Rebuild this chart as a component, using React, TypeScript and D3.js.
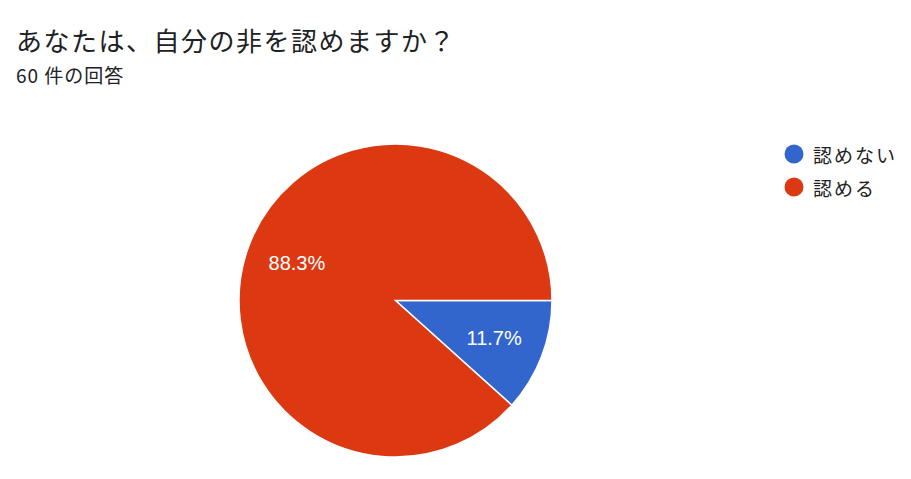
import React from "react";
import * as d3 from "d3";

const title = "あなたは、自分の非を認めますか？";
const subtitle = "60 件の回答";
const categories = ["認めない", "認める"];
const counts = [7, 53];
const colors = ["#3366cc", "#dc3912"];

const W = 911;
const H = 479;

export default function App() {
  const cx = 395.5;
  const cy = 300.5;
  const R = 156.5;
  const total = d3.sum(counts);
  const pie = d3
    .pie<number>()
    .sort(null)
    .value((d) => d)
    .startAngle(Math.PI / 2)
    .endAngle(Math.PI / 2 + 2 * Math.PI);
  const arcs = pie(counts);
  const arc = d3.arc<d3.PieArcDatum<number>>().innerRadius(0).outerRadius(R);
  const labelArc = d3
    .arc<d3.PieArcDatum<number>>()
    .innerRadius(R * 0.675)
    .outerRadius(R * 0.675);
  const cjk = "'Noto Sans CJK JP', 'Noto Sans', sans-serif";
  return (
    <svg
      width={W}
      height={H}
      style={{ position: "absolute", left: 0, top: 0, background: "#fff" }}
    >
      <rect width={W} height={H} fill="#fff" />
      <text x={16} y={51} fontFamily={cjk} fontSize={26} letterSpacing={1.5} fill="#202124">
        {title}
      </text>
      <text x={16} y={83} fontFamily={cjk} fontSize={19} letterSpacing={1} fill="#202124">
        {subtitle}
      </text>
      <g transform={`translate(${cx},${cy})`}>
        {arcs.map((a, i) => (
          <path
            key={i}
            d={arc(a) || ""}
            fill={colors[i]}
            stroke="#fff"
            strokeWidth={1.5}
          />
        ))}
        {arcs.map((a, i) => {
          const [lx, ly] = labelArc.centroid(a);
          return (
            <text
              key={"l" + i}
              x={lx}
              y={ly}
              textAnchor="middle"
              dominantBaseline="central"
              fontFamily="'Liberation Sans', Arial, sans-serif"
              fontSize={20}
              fill="#fff"
            >
              {((counts[i] / total) * 100).toFixed(1) + "%"}
            </text>
          );
        })}
      </g>
      {categories.map((c, i) => (
        <g key={c} transform={`translate(794,${154 + i * 33})`}>
          <circle r={9.5} fill={colors[i]} />
          <text
            x={19}
            y={0}
            dominantBaseline="central"
            fontFamily={cjk}
            fontSize={19}
            letterSpacing={2}
            fill="#222"
          >
            {c}
          </text>
        </g>
      ))}
    </svg>
  );
}
